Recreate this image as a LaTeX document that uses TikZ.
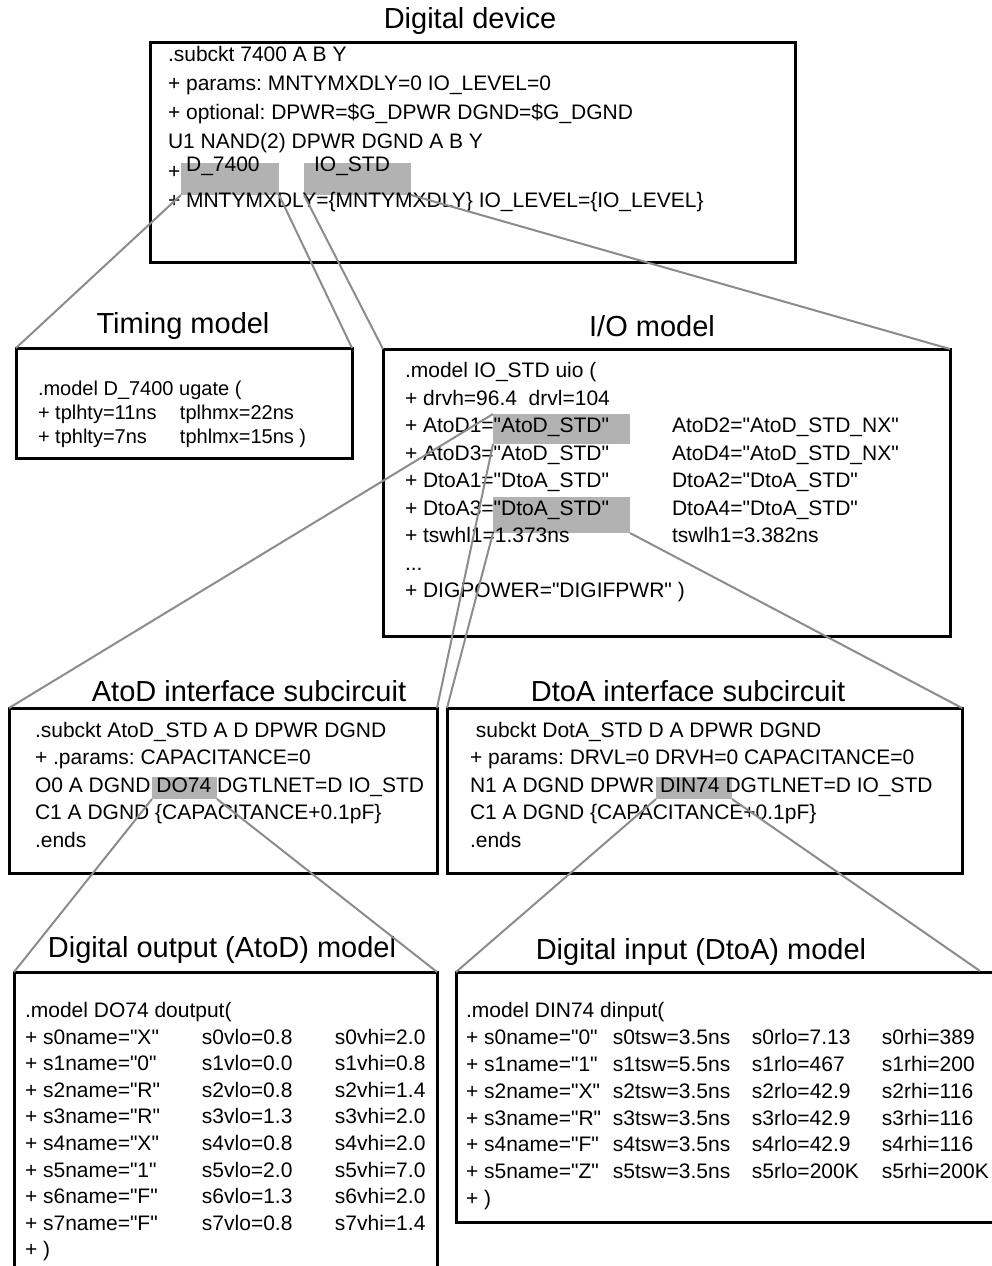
\documentclass[tikz,border=0pt]{standalone}
\usepackage{fontspec}
\setmainfont{Liberation Sans}[Ligatures=TeXOff]
\usetikzlibrary{positioning}
\frenchspacing

\begin{document}
\begin{tikzpicture}[x=1pt,y=-1pt,
  box/.style={draw=black,line width=3pt,anchor=north west,inner sep=0pt,outer sep=0pt},
  hilite/.style={fill=black!30,anchor=north west,inner sep=0pt,outer sep=0pt},
  code/.style={anchor=north west,inner sep=0pt,outer sep=0pt},
  title/.style={font=\fontsize{29}{34}\selectfont},
  link/.style={draw=black!45,line width=2pt}]
\useasboundingbox (0,0) rectangle (992,1266);
\clip (0,0) rectangle (992,1266);

% highlighted names
\node[hilite,minimum width=98pt,minimum height=32pt] (g1) at (181,163) {};
\node[hilite,minimum width=107pt,minimum height=32pt] (g2) at (304,163) {};
\node[hilite,minimum width=137pt,minimum height=30pt] (h1) at (493,414) {};
\node[hilite,minimum width=137pt,minimum height=36pt] (h2) at (493,497) {};
\node[hilite,minimum width=65pt,minimum height=22pt] (d1) at (152,777) {};
\node[hilite,minimum width=76pt,minimum height=22pt] (d2) at (656,777) {};

% digital device
\node[title] (devtitle) at (470,21) {Digital device};
\node[box,minimum width=645pt,minimum height=220pt] (dev) at (150,42) {};
\node[code,font=\fontsize{21}{29}\selectfont] (devtxt) at (168,40.7) {%
\begin{tabular}{@{}l@{}}
.subckt 7400 A B Y\\
+ params: MNTYMXDLY=0 IO\_LEVEL=0\\
+ optional: DPWR=\$G\_DPWR DGND=\$G\_DGND\\
U1 NAND(2) DPWR DGND A B Y\\
+ \raisebox{7pt}{\makebox[128pt][l]{D\_7400}IO\_STD}\\
+ MNTYMXDLY=\{MNTYMXDLY\} IO\_LEVEL=\{IO\_LEVEL\}
\end{tabular}};

% timing model
\node[title] (timtitle) at (183,326) {Timing model};
\node[box,minimum width=336pt,minimum height=110pt] (timing) at (16,348) {};
\node[code,font=\fontsize{20}{24}\selectfont] (timtxt) at (38,378.2) {%
\begin{tabular}{@{}p{142pt}@{}l@{}}
\multicolumn{2}{@{}l@{}}{.model D\_7400 ugate (}\\
+ tplhty=11ns & tplhmx=22ns\\
+ tphlty=7ns & tphlmx=15ns )
\end{tabular}};

% I/O model
\node[title] (iotitle) at (652,326) {I/O model};
\node[box,minimum width=567pt,minimum height=287pt] (io) at (383,349) {};
\node[code,font=\fontsize{21}{27.5}\selectfont] (iotxt) at (405,358.3) {%
\begin{tabular}{@{}p{267pt}@{}l@{}}
.model IO\_STD uio ( & \\
+ drvh=96.4\ \ drvl=104 & \\
+ AtoD1="AtoD\_STD" & AtoD2="AtoD\_STD\_NX"\\
+ AtoD3="AtoD\_STD" & AtoD4="AtoD\_STD\_NX"\\
+ DtoA1="DtoA\_STD" & DtoA2="DtoA\_STD"\\
+ DtoA3="DtoA\_STD" & DtoA4="DtoA\_STD"\\
+ tswhl1=1.373ns & tswlh1=3.382ns\\
... & \\
\multicolumn{2}{@{}l@{}}{+ DIGPOWER="DIGIFPWR" )}
\end{tabular}};

% AtoD interface
\node[title] (atodtitle) at (249,691) {AtoD interface subcircuit};
\node[box,minimum width=428pt,minimum height=165pt] (atod) at (9,708) {};
\node[code,font=\fontsize{21}{27.5}\selectfont] (atodtxt) at (35,717.8) {%
\begin{tabular}{@{}l@{}}
.subckt AtoD\_STD A D DPWR DGND\\
+ .params: CAPACITANCE=0\\
O0 A DGND DO74 DGTLNET=D IO\_STD\\
C1 A DGND \{CAPACITANCE+0.1pF\}\\
.ends
\end{tabular}};

% DtoA interface
\node[title] (dtoatitle) at (688,691) {DtoA interface subcircuit};
\node[box,minimum width=515pt,minimum height=165pt] (dtoa) at (447,708) {};
\node[code,font=\fontsize{21}{27.5}\selectfont] (dtoatxt) at (470,717.8) {%
\begin{tabular}{@{}l@{}}
\ subckt DotA\_STD D A DPWR DGND\\
+ params: DRVL=0 DRVH=0 CAPACITANCE=0\\
N1 A DGND DPWR DIN74 DGTLNET=D IO\_STD\\
C1 A DGND \{CAPACITANCE+0.1pF\}\\
.ends
\end{tabular}};

% digital output model
\node[title] (dotitle) at (222,950) {Digital output (AtoD) model};
\node[box,minimum width=423pt,minimum height=320pt] (dout) at (14,972) {};
\node[code,font=\fontsize{21}{26.6}\selectfont] (dotxt) at (25,998.9) {%
\begin{tabular}{@{}p{177pt}@{}p{133pt}@{}l@{}}
\multicolumn{3}{@{}l@{}}{.model DO74 doutput(}\\
+ s0name="X" & s0vlo=0.8 & s0vhi=2.0\\
+ s1name="0" & s1vlo=0.0 & s1vhi=0.8\\
+ s2name="R" & s2vlo=0.8 & s2vhi=1.4\\
+ s3name="R" & s3vlo=1.3 & s3vhi=2.0\\
+ s4name="X" & s4vlo=0.8 & s4vhi=2.0\\
+ s5name="1" & s5vlo=2.0 & s5vhi=7.0\\
+ s6name="F" & s6vlo=1.3 & s6vhi=2.0\\
+ s7name="F" & s7vlo=0.8 & s7vhi=1.4\\
+ ) & &
\end{tabular}};

% digital input model
\node[title] (dititle) at (701,952) {Digital input (DtoA) model};
\node[box,minimum width=544pt,minimum height=250pt] (din) at (456,972) {};
\node[code,font=\fontsize{21}{26.8}\selectfont] (ditxt) at (466,999.2) {%
\begin{tabular}{@{}p{147pt}@{}p{139pt}@{}p{130pt}@{}l@{}}
\multicolumn{4}{@{}l@{}}{.model DIN74 dinput(}\\
+ s0name="0" & s0tsw=3.5ns & s0rlo=7.13 & s0rhi=389\\
+ s1name="1" & s1tsw=5.5ns & s1rlo=467 & s1rhi=200\\
+ s2name="X" & s2tsw=3.5ns & s2rlo=42.9 & s2rhi=116\\
+ s3name="R" & s3tsw=3.5ns & s3rlo=42.9 & s3rhi=116\\
+ s4name="F" & s4tsw=3.5ns & s4rlo=42.9 & s4rhi=116\\
+ s5name="Z" & s5tsw=3.5ns & s5rlo=200K & s5rhi=200K\\
+ ) & & &
\end{tabular}};
\coordinate (dinend) at (980,971);

% links
\draw[link] (g1.south west) -- (timing.north west);
\draw[link] (g1.south east) -- (timing.north east);
\draw[link] (g2.south west) -- (io.north west);
\draw[link] (g2.south east) -- (io.north east);
\draw[link] (h1.north west) -- (atod.north west);
\draw[link] (h1.south west) -- (atod.north east);
\draw[link] (h2.south west) -- (dtoa.north west);
\draw[link] (h2.south east) -- (dtoa.north east);
\draw[link] (d1.south west) -- (dout.north west);
\draw[link] (d1.south east) -- (dout.north east);
\draw[link] (d2.south west) -- (din.north west);
\draw[link] (d2.south east) -- (dinend);
\end{tikzpicture}
\end{document}
